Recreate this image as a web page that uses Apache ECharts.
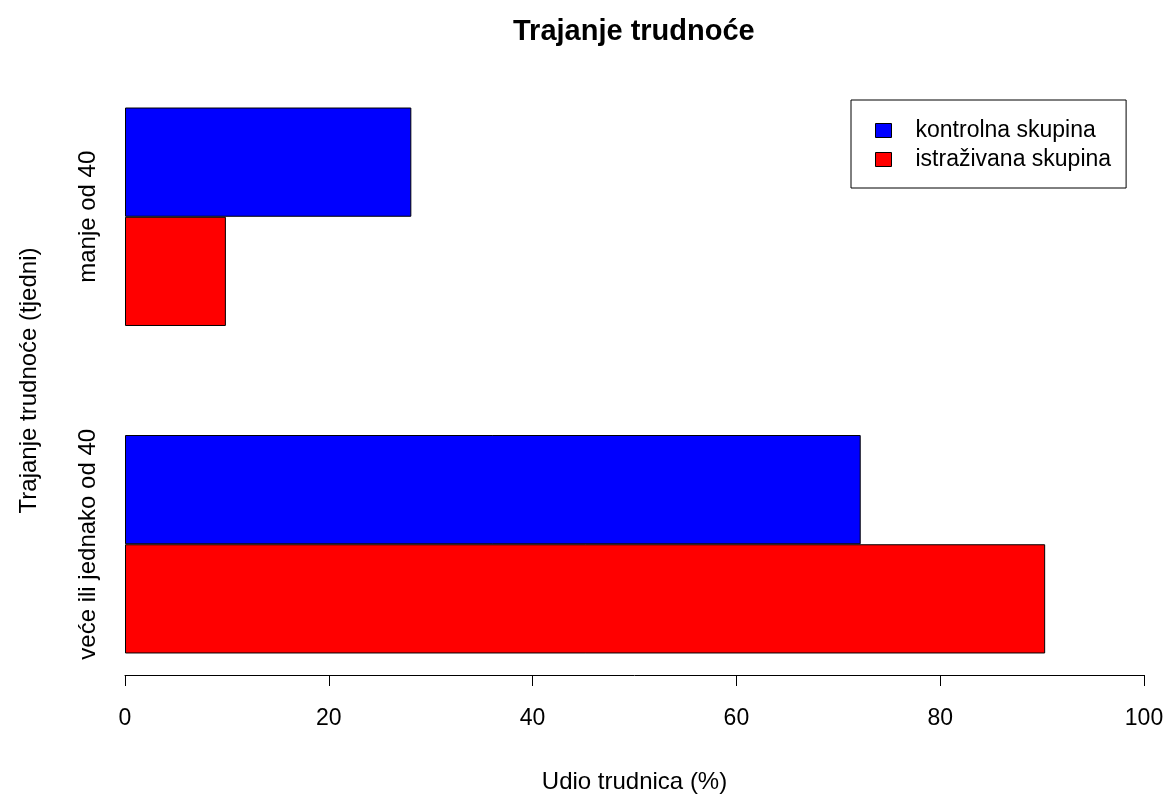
<!DOCTYPE html>
<html>
<head>
<meta charset="utf-8">
<script src="https://cdn.jsdelivr.net/npm/echarts@6/dist/echarts.min.js"></script>
<style>
  html, body { margin: 0; padding: 0; background: #fff; }
  #chart { width: 1169px; height: 794px; }
</style>
</head>
<body>
<div id="chart"></div>
<script>
// categories, bottom to top as R draws them
const categories = ['veće ili jednako od 40', 'manje od 40']
const kontrolna = [72.2, 28.1]
const istrazivana = [90.3, 9.9]
const xTicks = [0, 20, 40, 60, 80, 100]

const font = 'Liberation Sans, Arial, sans-serif'

const chart = echarts.init(document.getElementById('chart'))

const option = {
  backgroundColor: '#fff',
  animation: false,
  title: {
    text: 'Trajanje trudnoće',
    left: 508,
    top: 12,
    textStyle: {
      fontFamily: font,
      fontSize: 29,
      fontWeight: 'bold',
      color: '#000'
    }
  },
  legend: {
    orient: 'vertical',
    left: 851,
    top: 100,
    padding: [19, 15, 17, 24],
    itemGap: 6,
    itemWidth: 16,
    itemHeight: 14,
    borderColor: '#000',
    borderWidth: 1,
    icon: 'rect',
    itemStyle: {
      borderColor: '#000',
      borderWidth: 1
    },
    textStyle: {
      fontFamily: font,
      fontSize: 23,
      color: '#000',
      padding: [0, 0, 0, 19]
    },
    data: ['kontrolna skupina', 'istraživana skupina']
  },
  grid: {
    left: 125,
    right: 25,
    top: 53,
    bottom: 86,
    outerBoundsMode: 'none'
  },
  xAxis: {
    type: 'value',
    min: 0,
    max: 100,
    interval: 20,
    offset: -33,
    name: 'Udio trudnica (%)',
    nameLocation: 'middle',
    nameGap: 95,
    nameTextStyle: {
      fontFamily: font,
      fontSize: 24,
      color: '#000'
    },
    splitLine: { show: false },
    axisLine: { show: true, lineStyle: { color: '#000', width: 1 } },
    axisTick: { show: true, length: 11, lineStyle: { color: '#000' } },
    axisLabel: {
      fontFamily: font,
      fontSize: 23,
      color: '#000',
      margin: 32,
      formatter: (v) => xTicks.includes(v) ? String(v) : ''
    }
  },
  yAxis: {
    type: 'category',
    data: categories,
    name: 'Trajanje trudnoće (tjedni)',
    nameLocation: 'middle',
    nameGap: 84,
    nameTextStyle: {
      fontFamily: font,
      fontSize: 24,
      color: '#000'
    },
    axisLine: { show: false },
    axisTick: { show: false },
    splitLine: { show: false },
    axisLabel: {
      rotate: 90,
      margin: 25,
      fontFamily: font,
      fontSize: 24,
      color: '#000'
    }
  },
  series: [
    {
      name: 'kontrolna skupina',
      type: 'bar',
      data: kontrolna,
      barGap: 0,
      barCategoryGap: '33.3%',
      itemStyle: { color: '#0000ff', borderColor: '#000', borderWidth: 1 }
    },
    {
      name: 'istraživana skupina',
      type: 'bar',
      data: istrazivana,
      barGap: 0,
      barCategoryGap: '33.3%',
      itemStyle: { color: '#ff0000', borderColor: '#000', borderWidth: 1 }
    }
  ]
}

chart.setOption(option)
</script>
</body>
</html>
